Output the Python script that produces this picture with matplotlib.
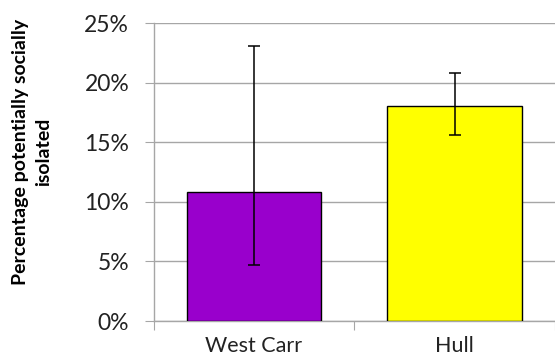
import matplotlib
matplotlib.use("Agg")
import matplotlib.pyplot as plt
from matplotlib.ticker import FuncFormatter, MultipleLocator

categories = ["West Carr", "Hull"]
values = [10.8, 18.0]
err_low = [4.7, 15.6]
err_high = [23.1, 20.8]
colors = ["#9900CC", "#FFFF00"]
y_label = "Percentage potentially socially\nisolated"

W, H = 555, 358
fig = plt.figure(figsize=(W / 100, H / 100), dpi=100)
left, right, top, bottom = 153.5, 555, 23, 321
ax = fig.add_axes([left / W, 1 - bottom / H, (right - left) / W, (bottom - top) / H])

x = list(range(len(categories)))
yerr = [[v - lo for v, lo in zip(values, err_low)], [hi - v for v, hi in zip(values, err_high)]]
ax.bar(x, values, width=0.67, color=colors, edgecolor="#000000", linewidth=1.0, zorder=3)
ax.errorbar(x, values, yerr=yerr, fmt="none", ecolor="#000000", elinewidth=1.1,
            capsize=4.5, capthick=1.1, zorder=4)

cat_w = (555 - 153.5 + 5) / 2
ax.set_xlim(-0.5, -0.5 + (right - left) / cat_w)
ax.set_ylim(0, 25)
ax.yaxis.set_major_locator(MultipleLocator(5))
ax.yaxis.set_major_formatter(FuncFormatter(lambda v, p: f"{v:.0f}%"))
ax.grid(axis="y", color="#A6A6A6", linewidth=1.0, zorder=0)
ax.set_axisbelow(True)

for s in ["top", "right"]:
    ax.spines[s].set_visible(False)
for s in ["left", "bottom"]:
    ax.spines[s].set_color("#A6A6A6")
    ax.spines[s].set_linewidth(1.0)

ax.set_xticks([-0.5, 0.5, 1.5], minor=False)
ax.set_xticklabels([])
ax.tick_params(axis="x", which="major", length=6.5, color="#A6A6A6", direction="out")
ax.set_xticks(x, minor=True)
ax.set_xticklabels(categories, minor=True, fontsize=15.5, family="Lato", color="#222222")
ax.tick_params(axis="x", which="minor", length=0, pad=10.5)
ax.tick_params(axis="y", length=6.5, color="#A6A6A6", labelsize=16.5, labelcolor="#222222", pad=11)
for lab in ax.get_yticklabels():
    lab.set_family("Lato")

fig.text(32 / W, 1 - 152 / H, y_label, rotation=90, ha="center", va="center",
         fontsize=14, fontweight="bold", family="Lato", multialignment="center",
         linespacing=1.4)

fig.savefig("out.png", dpi=100)
